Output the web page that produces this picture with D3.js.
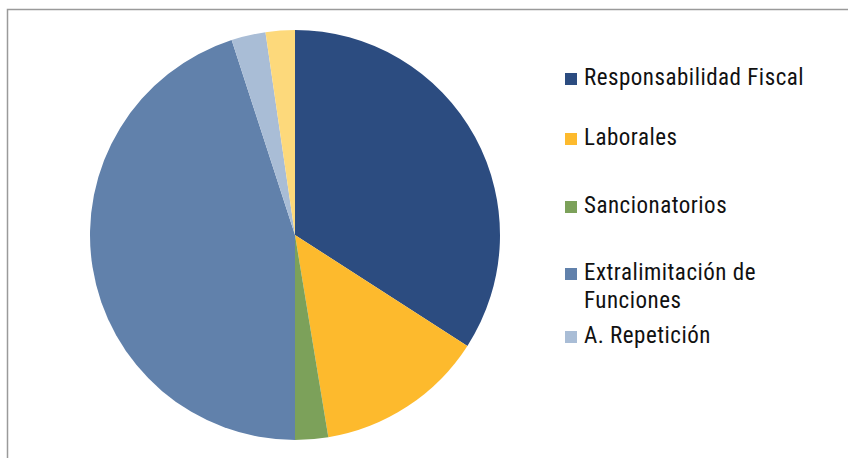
<!DOCTYPE html>
<html><head><meta charset="utf-8">
<script src="https://cdn.jsdelivr.net/npm/d3@7"></script>
<style>body{margin:0;background:#fff}</style>
</head><body>
<svg id="c" width="848" height="458"></svg>
<script>
const categories = ["Responsabilidad Fiscal","Laborales","Sancionatorios","Extralimitación de Funciones","A. Repetición","Otros"];
const values = [34.1, 13.3, 2.6, 45.0, 2.7, 2.3];
const legendLabels = [["Responsabilidad Fiscal"],["Laborales"],["Sancionatorios"],["Extralimitación de","Funciones"],["A. Repetición"]];
const colors = ["#2C4C80","#FDBA2D","#7CA15A","#6181AB","#A9BDD6","#FDD97B"];

const svg = d3.select("#c");
// frame
svg.append("path").attr("d","M7.5,458 V9.5 H848").attr("fill","none").attr("stroke","#9a9a9a").attr("stroke-width",1.5);

const cx = 295, cy = 235, r = 205;
const pie = d3.pie().sort(null).value(d=>d)(values);
const arc = d3.arc().innerRadius(0).outerRadius(r);
const g = svg.append("g").attr("transform",`translate(${cx},${cy})`);
g.selectAll("path").data(pie).join("path")
  .attr("d",arc).attr("fill",(d,i)=>colors[i]);

const legY = [85,145,213,280,343];
const lg = svg.append("g");
legendLabels.forEach((lines,i)=>{
  lg.append("rect").attr("x",565).attr("y",legY[i]-12).attr("width",12).attr("height",12).attr("fill",colors[i]);
  lines.forEach((t,j)=>{
    lg.append("text").attr("x",584).attr("y",legY[i]+j*28)
      .attr("font-family","'Liberation Sans Narrow','Arial Narrow','Roboto Condensed',sans-serif")
      .attr("font-size",23).attr("letter-spacing",0.5).attr("fill","#111").text(t);
  });
});
</script>
</body></html>
